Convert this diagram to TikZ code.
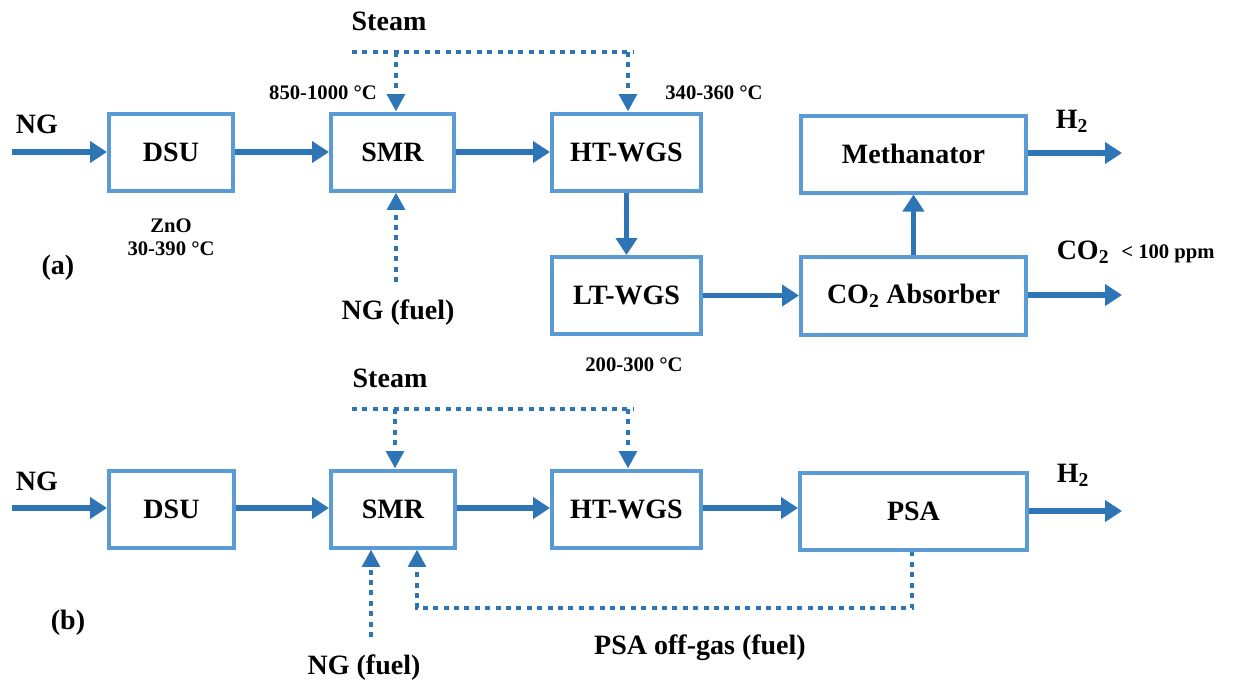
\documentclass[tikz,border=0pt]{standalone}
\usepackage{fontspec}
\setmainfont{Liberation Serif}
\usetikzlibrary{arrows.meta}
\definecolor{boxblue}{HTML}{5B9BD5}
\definecolor{arrowblue}{HTML}{2E75B6}
\tikzset{
  box/.style={draw=boxblue, line width=3pt, inner sep=0pt, minimum height=57.75pt,
              font=\fontsize{21}{24}\selectfont\bfseries},
  bigtxt/.style={inner sep=0pt, font=\fontsize{21}{24}\selectfont\bfseries},
  smalltxt/.style={inner sep=0pt, align=center, font=\fontsize{15.5}{19}\selectfont\bfseries},
  flow/.style={draw=arrowblue, line width=4.1pt, -{Triangle[length=12.75pt,width=15.75pt]}},
  dotline/.style={draw=arrowblue, line width=3.7pt, dash pattern=on 3.7pt off 4.1pt},
  dotflow/.style={dotline, -{Triangle[length=13pt,width=13pt]}}
}
\begin{document}
\begin{tikzpicture}[x=0.75pt,y=-0.75pt]
\useasboundingbox (0,0) rectangle (1235,687);

% ---------- (a) ----------
\node[box, minimum width=93pt] (dsuA) at (171,152) {DSU};
\node[box, minimum width=92.25pt] (smrA) at (392.5,152) {SMR};
\node[box, minimum width=111.75pt] (htA) at (626.5,152) {HT-WGS};
\node[box, minimum width=111.75pt] (ltA) at (626.5,295.5) {LT-WGS};
\node[box, minimum width=168.75pt] (methA) at (913.5,154) {Methanator};
\node[box, minimum width=168.75pt, minimum height=58.5pt] (absA) at (913.5,296) {CO\textsubscript{2} Absorber};

\coordinate (ngA) at (12,152);
\coordinate (h2A) at (1122,153);
\coordinate (co2A) at (1122,295);
\coordinate (stLA) at (352,52);
\coordinate (stRA) at (633,52);
\coordinate (fuelA) at (396,282);

\draw[flow] (ngA) -- (dsuA.west);
\draw[flow] (dsuA.east) -- (smrA.west);
\draw[flow] (smrA.east) -- (htA.west);
\draw[flow] (htA.south) -- (ltA.north);
\draw[flow] (ltA.east) -- (absA.west |- ltA.east);
\draw[flow] (absA.north) -- (methA.south);
\draw[flow] (methA.east |- h2A) -- (h2A);
\draw[flow] (absA.east |- co2A) -- (co2A);

\draw[dotline] (stLA) -- (stRA);
\draw[dotflow] ([xshift=2.6pt]smrA.north |- stLA) -- ([xshift=2.6pt]smrA.north);
\draw[dotflow] ([xshift=1.1pt]htA.north |- stLA) -- ([xshift=1.1pt]htA.north);
\draw[dotflow] (fuelA) -- (fuelA |- smrA.south);

\node[bigtxt] (ngAt) at (37,124) {NG};
\node[bigtxt] (steamAt) at (389,21) {Steam};
\node[smalltxt] (tSMR) at (323,93) {850-1000 °C};
\node[smalltxt] (tHT) at (714,93) {340-360 °C};
\node[smalltxt] (tZnO) at (171,226) {ZnO};
\node[smalltxt] (tDSU) at (171,249) {30-390 °C};
\node[bigtxt] (labA) at (58,268) {(a)};
\node[bigtxt] (fuelAt) at (398,313) {NG (fuel)};
\node[smalltxt] (tLT) at (634,365) {200-300 °C};
\node[bigtxt] (h2At) at (1072,121) {H\textsubscript{2}};
\node[bigtxt] (co2At) at (1083,252) {CO\textsubscript{2}};
\node[smalltxt] (ppmAt) at (1168,254) {< 100 ppm};

% ---------- (b) ----------
\node[box, minimum width=93.75pt] (dsuB) at (171.5,509) {DSU};
\node[box, minimum width=93pt] (smrB) at (393,509) {SMR};
\node[box, minimum width=111.75pt] (htB) at (626.5,509) {HT-WGS};
\node[box, minimum width=170.25pt] (psaB) at (913.5,511) {PSA};

\coordinate (ngB) at (12,508);
\coordinate (h2B) at (1122,511);
\coordinate (stLB) at (352,409);
\coordinate (stRB) at (633,409);
\coordinate (fuelB) at (371,637);
\coordinate (offR) at (912,608);
\coordinate (offL) at (417,608);

\draw[flow] (ngB) -- (ngB -| dsuB.west);
\draw[flow] (dsuB.east |- ngB) -- (smrB.west |- ngB);
\draw[flow] (smrB.east |- ngB) -- (htB.west |- ngB);
\draw[flow] (htB.east |- ngB) -- (psaB.west |- ngB);
\draw[flow] (psaB.east |- h2B) -- (h2B);

\draw[dotline] (stLB) -- (stRB);
\draw[dotflow] ([xshift=1.5pt]smrB.north |- stLB) -- ([xshift=1.5pt]smrB.north);
\draw[dotflow] ([xshift=1.1pt]htB.north |- stLB) -- ([xshift=1.1pt]htB.north);
\draw[dotflow] (fuelB) -- (fuelB |- smrB.south);
\draw[dotflow] (offR |- psaB.south) -- (offR) -- (offL) -- (offL |- smrB.south);

\node[bigtxt] (ngBt) at (37,481) {NG};
\node[bigtxt] (steamBt) at (390,378) {Steam};
\node[bigtxt] (labB) at (68,623) {(b)};
\node[bigtxt] (fuelBt) at (364,668) {NG (fuel)};
\node[bigtxt] (offt) at (700,648) {PSA off-gas (fuel)};
\node[bigtxt] (h2Bt) at (1073,475) {H\textsubscript{2}};
\end{tikzpicture}
\end{document}
